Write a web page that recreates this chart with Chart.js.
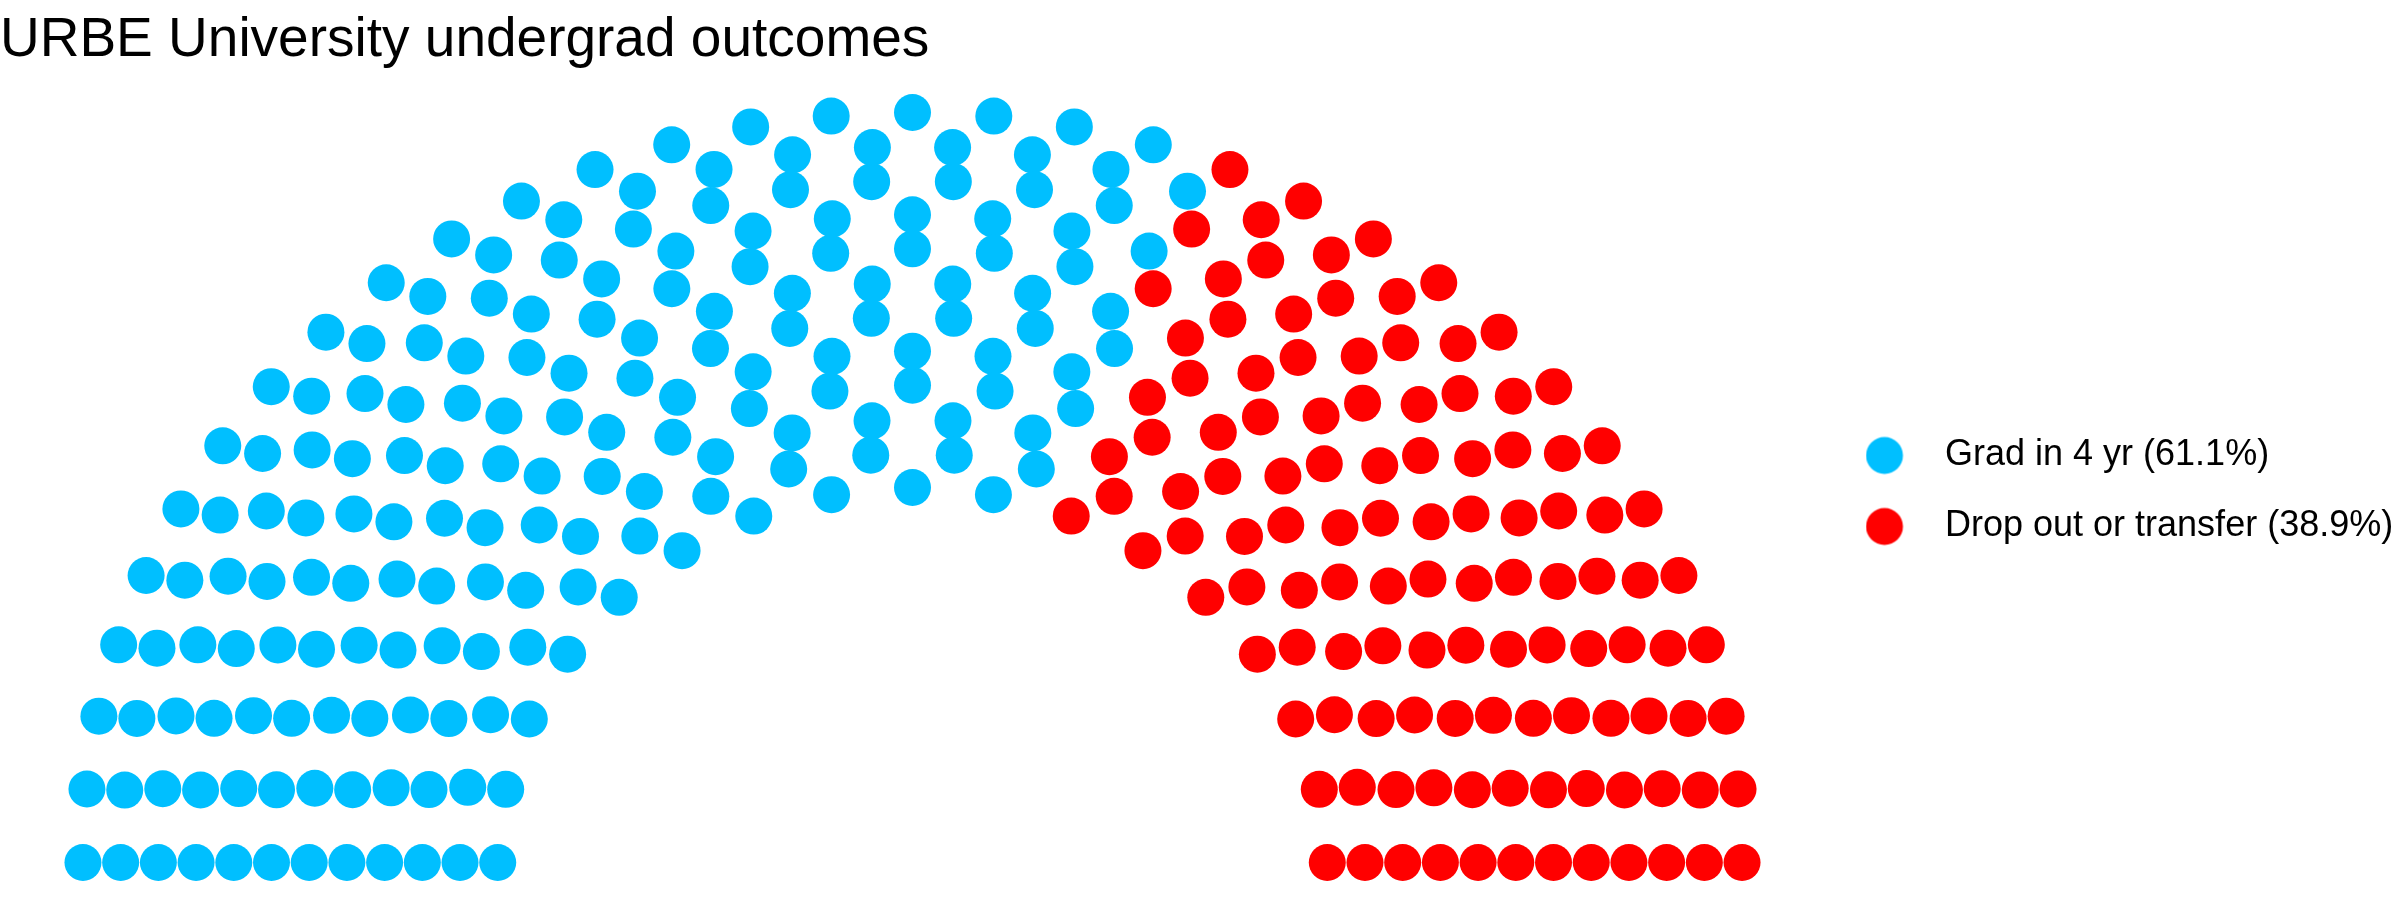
<!DOCTYPE html>
<html>
<head>
<meta charset="utf-8">
<title>URBE University undergrad outcomes</title>
<script src="https://cdn.jsdelivr.net/npm/chart.js@4.4.1/dist/chart.umd.min.js"></script>
<style>
  html, body { margin: 0; padding: 0; background: #fff; }
  #wrap { width: 2400px; height: 900px; }
</style>
</head>
<body>
<div id="wrap"><canvas id="parliament" width="2400" height="900"></canvas></div>
<script>
// outcome groups, seats out of 300 students, 12 rows in the half circle
const categories = ["Grad in 4 yr (61.1%)", "Drop out or transfer (38.9%)"];
const seats = [183, 117];
const colors = ["#00BFFF", "#FF0000"];
const rowCount = 12;

const FONT = "'Liberation Sans', Arial, Helvetica, sans-serif";

// half circle seat layout, row radii from 1 to 2, filled left to right
function seatLayout(total, rows) {
  const radii = [];
  for (let i = 0; i < rows; i++) radii.push(1 + i / (rows - 1));
  let left = total;
  const pts = [];
  for (let i = 0; i < rows; i++) {
    const rest = radii.slice(i).reduce((a, b) => a + b, 0);
    const n = Math.round(left * radii[i] / rest);
    for (let k = 0; k < n; k++) {
      const theta = n === 1 ? 0 : Math.PI * k / (n - 1);
      pts.push({ x: radii[i] * Math.cos(theta), y: radii[i] * Math.sin(theta), row: i, theta: theta });
    }
    left -= n;
  }
  pts.sort((a, b) => (b.theta - a.theta) || (b.row - a.row));
  return pts;
}

const layout = seatLayout(seats.reduce((a, b) => a + b, 0), rowCount);
let start = 0;
const datasets = categories.map(function (name, i) {
  const pts = layout.slice(start, start + seats[i]).map(p => ({ x: p.x, y: p.y }));
  start += seats[i];
  return {
    label: name,
    data: pts,
    backgroundColor: colors[i],
    borderWidth: 0,
    pointRadius: 18.5,
    pointHoverRadius: 18.5,
    clip: false
  };
});

// legend marker, drawn a bit left of the box centre
function legendDot(color) {
  const c = document.createElement("canvas");
  c.width = 56;
  c.height = 40;
  const g = c.getContext("2d");
  g.fillStyle = color;
  g.beginPath();
  g.arc(c.width / 2 - 9, c.height / 2, 18.5, 0, Math.PI * 2);
  g.fill();
  return c;
}

const ctx = document.getElementById("parliament").getContext("2d");
new Chart(ctx, {
  type: "scatter",
  data: { datasets: datasets },
  options: {
    responsive: false,
    animation: false,
    devicePixelRatio: 1,
    layout: { padding: 0, autoPadding: false },
    scales: {
      x: { type: "linear", min: -2.2, max: 2.2, display: false },
      y: { type: "linear", min: -0.1, max: 2.1, display: false }
    },
    plugins: {
      tooltip: { enabled: false },
      title: {
        display: true,
        text: "URBE University undergrad outcomes",
        align: "start",
        color: "#000",
        font: { family: FONT, size: 55, weight: "normal" },
        padding: { top: 8, bottom: 1 }
      },
      legend: {
        position: "right",
        align: "center",
        maxWidth: 575,
        // empty title only pushes the keys down a little
        title: { display: true, text: "", font: { size: 1, lineHeight: 1 }, padding: { top: 81, bottom: 0 } },
        labels: {
          usePointStyle: true,
          pointStyleWidth: 67,
          boxHeight: 36,
          padding: 35,
          color: "#000",
          font: { family: FONT, size: 36 },
          generateLabels: function (chart) {
            const items = Chart.defaults.plugins.legend.labels.generateLabels(chart);
            items.forEach(function (item, i) {
              item.pointStyle = legendDot(colors[i]);
            });
            return items;
          }
        }
      }
    }
  }
});
</script>
</body>
</html>
